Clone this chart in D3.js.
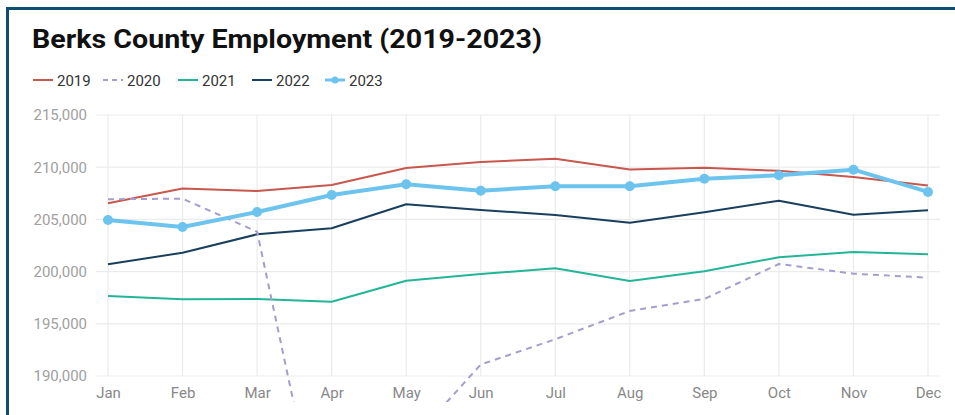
<!DOCTYPE html>
<html><head><meta charset="utf-8">
<script src="https://cdn.jsdelivr.net/npm/d3@7"></script>
<style>html,body{margin:0;padding:0;background:#fff;overflow:hidden}svg{display:block;font-family:Roboto,"Noto Sans",sans-serif}</style>
</head><body>
<svg id="chart" width="955" height="415"></svg>
<script>
const months = ["Jan","Feb","Mar","Apr","May","Jun","Jul","Aug","Sep","Oct","Nov","Dec"];
const yTicks = [190000,195000,200000,205000,210000,215000];
const years = ["2019","2020","2021","2022","2023"];
const v2019 = [206550,207950,207720,208300,209930,210500,210800,209780,209950,209650,209070,208250];
const v2020 = [206930,206990,203820,170400,183200,191100,193520,196230,197380,200730,199800,199420];
const v2021 = [197660,197350,197380,197120,199130,199770,200320,199100,200030,201370,201880,201660];
const v2022 = [200700,201810,203570,204150,206450,205900,205420,204690,205680,206790,205450,205870];
const v2023 = [204950,204270,205710,207340,208360,207750,208170,208170,208900,209230,209760,207630];
const colors = ["#c8574e","#a79dcc","#22b597","#183f5e","#6cc3ee"];

const series = [v2019,v2020,v2021,v2022,v2023];
const svg = d3.select("#chart");

// frame
svg.append("rect").attr("x",7.5).attr("y",8.5).attr("width",1000).attr("height",500)
  .attr("fill","#fff").attr("stroke","#0d4d70").attr("stroke-width",3);

const x = d3.scalePoint().domain(months).range([108,928]);
const y = d3.scaleLinear().domain([190000,215000]).range([376,115]);

// title
svg.append("text").attr("x",32).attr("y",48).text("Berks County Employment (2019-2023)")
  .attr("font-size",26).attr("font-weight",700).attr("fill","#111")
  .attr("textLength",510).attr("lengthAdjust","spacingAndGlyphs");

// legend
const legX = [33,103,178,252,325];
years.forEach((yr,i)=>{
  const g = svg.append("g").attr("transform",`translate(${legX[i]},80)`);
  g.append("line").attr("x1",0).attr("x2",20).attr("y1",0).attr("y2",0)
    .attr("stroke",colors[i]).attr("stroke-width",i===4?3:2)
    .attr("stroke-dasharray",i===1?"5,4":null);
  if(i===4) g.append("circle").attr("cx",10).attr("cy",0).attr("r",3.5).attr("fill",colors[i]);
  g.append("text").attr("x",24).attr("y",5.5).text(yr).attr("font-size",15).attr("fill","#333");
});

// grid
svg.append("g").selectAll("line").data(yTicks).join("line")
  .attr("x1",96).attr("x2",940).attr("y1",d=>y(d)).attr("y2",d=>y(d))
  .attr("stroke","#ebebeb").attr("stroke-width",1.2);
svg.append("g").selectAll("line").data(months).join("line")
  .attr("x1",d=>x(d)).attr("x2",d=>x(d)).attr("y1",115).attr("y2",376)
  .attr("stroke","#ebebeb").attr("stroke-width",1.2);

// axes labels
const fmt = d3.format(",");
const yAxis = d3.axisLeft(y).tickValues(yTicks).tickFormat(fmt).tickSize(0).tickPadding(0);
const ya = svg.append("g").attr("transform","translate(87,0)").call(yAxis);
ya.select(".domain").remove();
ya.selectAll("text").attr("font-size",15).attr("fill","#a0a0a0").attr("font-family","Roboto,sans-serif");

const xAxis = d3.axisBottom(x).tickSize(0).tickPadding(0);
const xa = svg.append("g").attr("transform","translate(0,387)").call(xAxis);
xa.select(".domain").remove();
xa.selectAll("text").attr("font-size",15).attr("fill","#888").attr("font-family","Roboto,sans-serif");

// clip
svg.append("clipPath").attr("id","clip").append("rect").attr("x",0).attr("y",0).attr("width",955).attr("height",402);

const line = d3.line().x((d,i)=>x(months[i])).y(d=>y(d));
const lg = svg.append("g").attr("clip-path","url(#clip)");
[2,3,0,1,4].forEach(i=>{
  lg.append("path").datum(series[i]).attr("d",line).attr("fill","none")
    .attr("stroke",colors[i]).attr("stroke-width",i===4?4:2)
    .attr("stroke-linejoin","round")
    .attr("stroke-dasharray",i===1?"6,5":null);
});
lg.append("g").selectAll("circle").data(v2023).join("circle")
  .attr("cx",(d,i)=>x(months[i])).attr("cy",d=>y(d)).attr("r",5).attr("fill",colors[4]);
</script>
</body></html>
